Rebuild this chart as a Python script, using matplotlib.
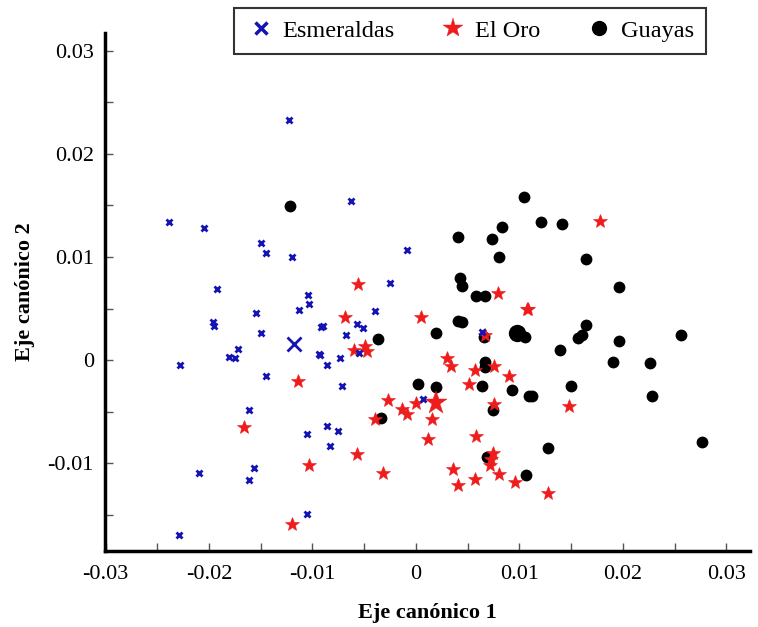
import matplotlib
matplotlib.use("Agg")
import matplotlib.pyplot as plt
from matplotlib.lines import Line2D
from matplotlib.ticker import MultipleLocator, FuncFormatter

plt.rcParams['font.family'] = ['Liberation Serif', 'DejaVu Serif']
plt.rcParams['axes.unicode_minus'] = False

# Esmeraldas points (x, y)
esm_x = [-0.0239, -0.02044, -0.01501, -0.0145, -0.01193, -0.01925, -0.01038, -0.01035,
         -0.01128, -0.01543, -0.0196, -0.01951, -0.01501, -0.0172, -0.01803, -0.01752,
         -0.02279, -0.00932, -0.00916, -0.0145, -0.01231, -0.01614, -0.01051, -0.02096,
         -0.01569, -0.01614, -0.01051, -0.02285, -0.00627, -0.00084, -0.00251, -0.00395,
         -0.00897, -0.00569, -0.00514, -0.00678, 0.00636, -0.00553, -0.00923, -0.00736,
         -0.00855, -0.00717, 0.0007, -0.00861, -0.00755, -0.00826]
esm_y = [0.01343, 0.01285, 0.01133, 0.01039, 0.01003, 0.00686, 0.00628, 0.0054,
         0.00489, 0.00459, 0.00369, 0.00333, 0.00265, 0.0011, 0.00026, 0.00016,
         -0.00049, 0.00055, 0.00323, -0.00155, 0.0233, -0.00479, -0.00718, -0.01094,
         -0.01042, -0.01165, -0.01495, -0.01696, 0.01544, 0.01071, 0.00748, 0.00479,
         0.0033, 0.00353, 0.00311, 0.00246, 0.00275, 0.00068, 0.00052, 0.00022,
         -0.00051, -0.00252, -0.00375, -0.00638, -0.00683, -0.00835]
esm_cx, esm_cy = -0.0118, 0.00152

# El Oro points
oro_x = [-0.01138, -0.01665, -0.01032, -0.01202, -0.00563, 0.00797, 0.01077, 0.00048,
         -0.00688, 0.00665, -0.00492, -0.00598, -0.00475, 0.00302, 0.0034, 0.00569,
         0.00759, 0.00897, 0.00511, -0.0027, 0.00003, -0.00135, -0.00087, 0.00752,
         -0.00395, 0.00154, 0.00119, 0.00579, -0.00569, 0.00749, 0.00723, 0.00714,
         -0.00315, 0.0036, 0.00803, 0.00412, 0.00572, 0.00961, 0.01781, 0.01083,
         0.01482, 0.0128]
oro_y = [-0.00204, -0.00647, -0.01016, -0.01592, 0.00735, 0.00653, 0.00495, 0.0042,
         0.00414, 0.00246, 0.00136, 0.00094, 0.00087, 0.00016, -0.00055, -0.00094,
         -0.00058, -0.00149, -0.0023, -0.00385, -0.00411, -0.00473, -0.00518, -0.00421,
         -0.00566, -0.00573, -0.00764, -0.00732, -0.00906, -0.009, -0.00955, -0.0102,
         -0.01094, -0.01052, -0.011, -0.01214, -0.01152, -0.01178, 0.0135, 0.00492,
         -0.00447, -0.01285]
oro_cx, oro_cy = 0.0019, -0.00411

# Guayas points
gua_x = [-0.01215, 0.01045, 0.00405, 0.00833, 0.00733, 0.00803, 0.00427, 0.00444,
         0.00582, 0.00665, 0.00405, 0.0045, 0.00196, 0.00659, 0.01054, -0.00364,
         0.00665, 0.00672, 0.00022, 0.00193, 0.00643, 0.00932, 0.01093, 0.00745,
         -0.00338, 0.00691, 0.01061, 0.01205, 0.01411, 0.01646, 0.01964, 0.01646,
         0.01565, 0.01601, 0.01961, 0.02562, 0.01392, 0.01909, 0.02263, 0.01501,
         0.01119, 0.02279, 0.01276, 0.02761]
gua_y = [0.01495, 0.01586, 0.01191, 0.01288, 0.01175, 0.00997, 0.00796, 0.00722,
         0.00621, 0.00621, 0.00379, 0.00366, 0.00265, 0.00226, 0.00226, 0.00207,
         -0.00016, -0.00065, -0.00233, -0.00265, -0.00252, -0.00291, -0.0035, -0.00482,
         -0.00557, -0.00935, -0.0111, 0.0134, 0.01317, 0.0098, 0.00709, 0.00343,
         0.00217, 0.0024, 0.00184, 0.00243, 0.00094, -0.00019, -0.00023, -0.00246,
         -0.0035, -0.00347, -0.00851, -0.00796]
gua_cx, gua_cy = 0.0098, 0.00259

labels = ["Esmeraldas", "El Oro", "Guayas"]
c_esm = '#1414b4'
c_oro = '#ee1c1c'
c_gua = '#000000'

fig = plt.figure(figsize=(7.58, 6.27), dpi=100)
ax = fig.add_axes([0.1385, 0.1212, 0.851, 0.826])

ax.plot(gua_x, gua_y, 'o', color=c_gua, ms=8.5, mew=0, linestyle='none')
ax.plot([gua_cx], [gua_cy], 'o', color=c_gua, ms=12.5, mew=0)
ax.plot(oro_x, oro_y, '*', color=c_oro, ms=10.5, mew=0.4, linestyle='none')
ax.plot([oro_cx], [oro_cy], '*', color=c_oro, ms=17, mew=0.3)
ax.plot(esm_x, esm_y, 'x', color=c_esm, ms=4.5, mew=2, linestyle='none')
ax.plot([esm_cx], [esm_cy], 'x', color=c_esm, ms=9.5, mew=2)

ax.set_xlim(-0.03005, 0.0323)
ax.set_ylim(-0.0185, 0.0317)

for s in ['top', 'right']:
    ax.spines[s].set_visible(False)
for s in ['left', 'bottom']:
    ax.spines[s].set_linewidth(2.5)

ax.xaxis.set_major_locator(MultipleLocator(0.01))
ax.yaxis.set_major_locator(MultipleLocator(0.01))
ax.xaxis.set_minor_locator(MultipleLocator(0.005))
ax.yaxis.set_minor_locator(MultipleLocator(0.005))
fmt = FuncFormatter(lambda v, p: ('%g' % round(v, 4)) if abs(v) > 1e-9 else '0')
ax.xaxis.set_major_formatter(fmt)
ax.yaxis.set_major_formatter(fmt)
ax.tick_params(which='both', direction='in', length=6, width=1, color='#555555',
               labelsize=16)
ax.tick_params(axis='x', which='major', pad=10)
ax.tick_params(axis='y', which='major', pad=8)

ax.set_xlabel("Eje canónico 1", fontsize=16, fontweight='bold', labelpad=14)
ax.set_ylabel("Eje canónico 2", fontsize=16, fontweight='bold', labelpad=9)

handles = [
    Line2D([], [], marker='x', color=c_esm, ms=9, mew=2.5, linestyle='none'),
    Line2D([], [], marker='*', color=c_oro, ms=15, mew=0.3, linestyle='none'),
    Line2D([], [], marker='o', color=c_gua, ms=11, mew=0, linestyle='none'),
]
leg = fig.legend(handles, labels, loc='center', bbox_to_anchor=(470 / 758, 1 - 31 / 627),
                 ncol=3, fontsize=17.5, frameon=True, fancybox=False, edgecolor='black',
                 handletextpad=0.3, columnspacing=1.8, borderpad=0.5, handlelength=1.2)
leg.get_frame().set_linewidth(1.5)

fig.savefig('out.png', dpi=100)
